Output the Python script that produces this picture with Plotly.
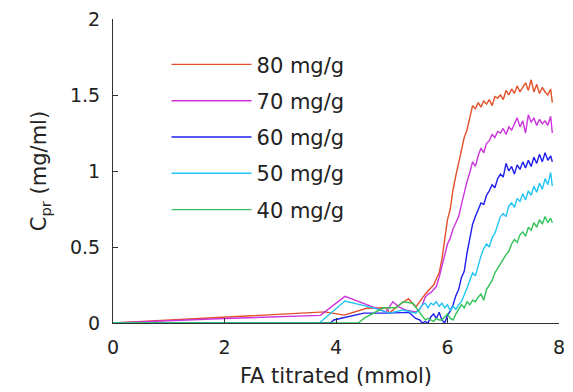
import plotly.graph_objects as go

# ---- data ----
X_DENSE = [5.50, 5.55, 5.60, 5.65, 5.70, 5.75, 5.80, 5.85, 5.90, 5.95,
           6.00, 6.05, 6.10, 6.15, 6.20, 6.25, 6.30, 6.35, 6.40, 6.45,
           6.50, 6.55, 6.60, 6.65, 6.70, 6.75, 6.80, 6.85, 6.90, 6.95,
           7.00, 7.05, 7.10, 7.15, 7.20, 7.25, 7.30, 7.35, 7.40, 7.45,
           7.50, 7.55, 7.60, 7.65, 7.70, 7.75, 7.80, 7.85, 7.88]

x80_early = [0, 2.0, 3.8, 4.15, 4.55, 4.9, 4.96, 5.1, 5.3, 5.43]
y80_early = [0, 0.04, 0.073, 0.052, 0.097, 0.10, 0.065, 0.11, 0.16, 0.105]
y80_dense = [0.14, 0.17, 0.19, 0.21, 0.23, 0.25, 0.29, 0.33, 0.42, 0.55,
             0.68, 0.75, 0.88, 0.97, 1.05, 1.15, 1.22, 1.27, 1.36, 1.43,
             1.41, 1.45, 1.42, 1.46, 1.44, 1.47, 1.43, 1.49, 1.48, 1.50,
             1.47, 1.53, 1.50, 1.54, 1.51, 1.56, 1.52, 1.55, 1.58, 1.53,
             1.60, 1.52, 1.57, 1.51, 1.55, 1.52, 1.50, 1.54, 1.45]

x70_early = [0, 2.0, 3.72, 4.16, 4.67, 4.9, 5.02, 5.13, 5.26, 5.43]
y70_early = [0, 0.03, 0.05, 0.175, 0.105, 0.073, 0.14, 0.105, 0.085, 0.073]
y70_dense = [0.09, 0.12, 0.17, 0.19, 0.20, 0.22, 0.24, 0.30, 0.38, 0.45,
             0.52, 0.56, 0.62, 0.66, 0.70, 0.78, 0.86, 0.93, 0.99, 1.06,
             1.03, 1.10, 1.15, 1.12, 1.18, 1.20, 1.24, 1.22, 1.26, 1.25,
             1.28, 1.24, 1.29, 1.27, 1.31, 1.35, 1.29, 1.33, 1.25, 1.37,
             1.32, 1.35, 1.30, 1.34, 1.31, 1.33, 1.30, 1.36, 1.25]

x60_early = [0, 3.9, 3.96, 4.5, 4.9, 5.31, 5.43]
y60_early = [0, 0, 0.02, 0.065, 0.065, 0.07, 0.03]
y60_dense = [0.02, 0.00, 0.01, 0.00, 0.04, 0.06, 0.03, 0.07, 0.02, 0.00,
             0.05, 0.08, 0.12, 0.18, 0.22, 0.30, 0.34, 0.46, 0.55, 0.65,
             0.70, 0.74, 0.79, 0.78, 0.84, 0.87, 0.91, 0.89, 0.95, 0.98,
             0.96, 1.05, 1.00, 1.03, 0.98, 1.04, 1.01, 1.06, 1.02, 1.07,
             1.03, 1.09, 1.05, 1.11, 1.06, 1.12, 1.07, 1.10, 1.06]

x50_early = [0, 3.7, 4.16, 4.67, 4.96, 5.2, 5.43]
y50_early = [0, 0, 0.145, 0.10, 0.065, 0.085, 0.065]
y50_dense = [0.09, 0.12, 0.13, 0.10, 0.13, 0.12, 0.14, 0.11, 0.13, 0.10,
             0.12, 0.08, 0.11, 0.09, 0.12, 0.14, 0.18, 0.23, 0.28, 0.33,
             0.31, 0.38, 0.44, 0.49, 0.52, 0.50, 0.56, 0.59, 0.64, 0.70,
             0.72, 0.70, 0.77, 0.79, 0.76, 0.82, 0.80, 0.85, 0.81, 0.87,
             0.84, 0.90, 0.86, 0.92, 0.88, 0.95, 0.91, 0.99, 0.90]

x40_early = [0, 4.4, 4.5, 4.85, 5.08, 5.2, 5.38]
y40_early = [0, 0, 0.03, 0.10, 0.10, 0.14, 0.13]
y40_dense = [0.07, 0.04, 0.02, 0.03, 0.02, 0.01, 0.03, 0.02, 0.02, 0.04,
             0.06, 0.03, 0.02, 0.06, 0.09, 0.12, 0.10, 0.14, 0.12, 0.15,
             0.14, 0.17, 0.19, 0.15, 0.22, 0.25, 0.28, 0.33, 0.36, 0.39,
             0.42, 0.45, 0.47, 0.52, 0.55, 0.53, 0.58, 0.60, 0.57, 0.63,
             0.61, 0.66, 0.63, 0.68, 0.65, 0.70, 0.66, 0.69, 0.66]

series_names = ["80 mg/g", "70 mg/g", "60 mg/g", "50 mg/g", "40 mg/g"]
series_x = [x80_early + X_DENSE, x70_early + X_DENSE, x60_early + X_DENSE,
            x50_early + X_DENSE, x40_early + X_DENSE]
series_y = [y80_early + y80_dense, y70_early + y70_dense, y60_early + y60_dense,
            y50_early + y50_dense, y40_early + y40_dense]
series_colors = ["#E4502A", "#CC33DD", "#1E1EEE", "#22C4F2", "#33C25A"]

x_ticks = [0, 2, 4, 6, 8]
y_ticks = [0, 0.5, 1, 1.5, 2]
y_tick_text = ["0", "0.5", "1", "1.5", "2"]

FONT = "DejaVu Sans, Liberation Sans, Arial, sans-serif"

fig = go.Figure()
for name, xs, ys, col in zip(series_names, series_x, series_y, series_colors):
    fig.add_trace(go.Scatter(x=xs, y=ys, mode="lines", name=name,
                             legendgroup=name,
                             line=dict(color=col, width=1.4)))

axis_common = dict(showline=True, linecolor="#333333", linewidth=1,
                   ticks="inside", ticklen=5, tickcolor="#333333",
                   showgrid=False, zeroline=False, mirror=False,
                   tickfont=dict(family=FONT, size=19, color="#222222"))

fig.update_layout(
    width=573, height=392,
    margin=dict(l=113, r=8, t=14, b=69),
    paper_bgcolor="white", plot_bgcolor="white",
    font=dict(family=FONT, size=21, color="#222222"),
    xaxis=dict(range=[0, 8], tickvals=x_ticks, ticklabelstandoff=7,
               title=dict(text="FA titrated (mmol)", font=dict(size=21), standoff=11),
               **axis_common),
    yaxis=dict(range=[0, 2], tickvals=y_ticks, ticktext=y_tick_text,
               ticklabelstandoff=8,
               title=dict(text="C<sub>pr</sub> (mg/ml)", font=dict(size=21), standoff=17),
               **axis_common),
    legend=dict(x=0.12, y=0.917, xanchor="left", yanchor="top",
                bgcolor="rgba(0,0,0,0)", borderwidth=0,
                font=dict(size=21), itemwidth=80,
                tracegroupgap=6),
    showlegend=True,
)

fig.write_html("out.html")
